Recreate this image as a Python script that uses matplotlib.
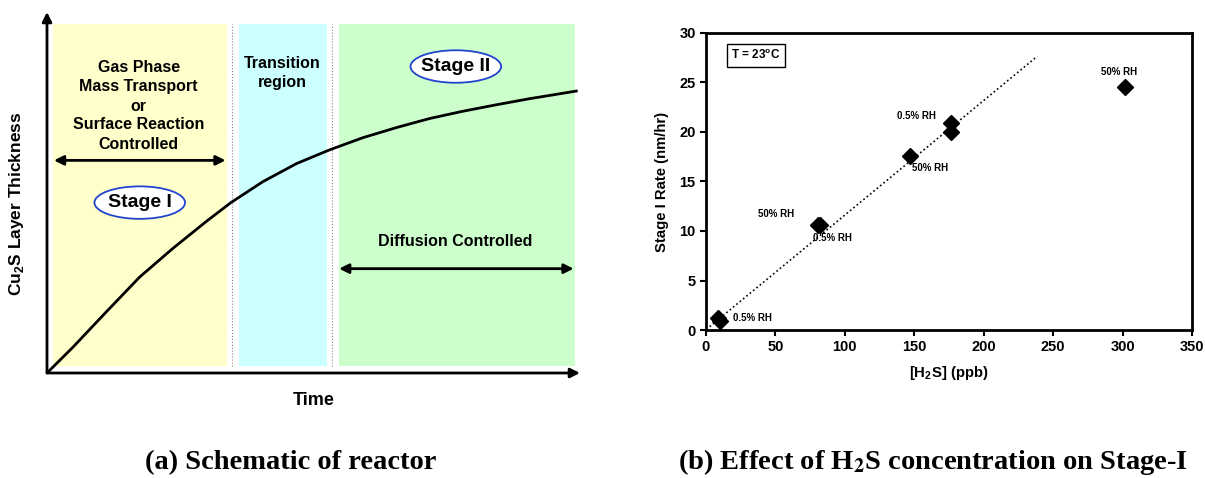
import matplotlib.pyplot as plt
from matplotlib.patches import Ellipse, Rectangle

plt.rcParams['font.family'] = ['Liberation Sans', 'DejaVu Sans']
plt.rcParams['font.weight'] = 'bold'
plt.rcParams['mathtext.fontset'] = 'custom'
plt.rcParams['mathtext.rm'] = 'Liberation Sans:bold'
plt.rcParams['mathtext.bf'] = 'Liberation Sans:bold'

# (a) schematic growth curve, arbitrary units
time = [0.0, 0.049, 0.111, 0.174, 0.236, 0.299, 0.345, 0.405, 0.468, 0.530,
        0.593, 0.656, 0.718, 0.780, 0.843, 0.906, 0.993]
thickness = [0.0, 0.072, 0.169, 0.266, 0.345, 0.420, 0.472, 0.530, 0.580, 0.618,
             0.652, 0.680, 0.705, 0.725, 0.743, 0.760, 0.781]
stage_bounds = [0.012, 0.337, 0.360, 0.526, 0.547, 0.991]
divider_t = [0.347, 0.534]

# (b) Stage I rate vs H2S concentration
h2s_ppb = [9.0, 10.0, 80.5, 82.3, 146.6, 176.2, 176.2, 301.8]
rate_nm_hr = [1.24, 0.94, 10.56, 10.56, 17.6, 20.9, 20.0, 24.5]
fit_x = [2.6, 238.6]
fit_y = [0.34, 27.65]
rh_labels = ['50% RH', '0.5% RH', '50% RH', '50% RH', '0.5% RH', '0.5% RH']
rh_x = [297.8, 151.2, 161.5, 50.4, 90.8, 33.7]
rh_y = [26.1, 21.6, 16.4, 11.7, 9.3, 1.24]
x_ticks = [0, 50, 100, 150, 200, 250, 300, 350]
y_ticks = [0, 5, 10, 15, 20, 25, 30]

W, H = 1205, 478
fig = plt.figure(figsize=(W / 100, H / 100), dpi=100)

# ---- left: schematic ----
ax1 = fig.add_axes([47 / W, 105 / H, 533 / W, 361 / H])
ax1.set_xlim(0, 1)
ax1.set_ylim(0, 1)
ax1.axis('off')

y0, y1 = 0.019, 0.968
colors = ['#ffffcc', '#ccffff', '#ccffcc']
for i, c in enumerate(colors):
    a, b = stage_bounds[2 * i], stage_bounds[2 * i + 1]
    ax1.add_patch(Rectangle((a, y0), b - a, y1 - y0, facecolor=c, edgecolor='none', zorder=0))
for d in divider_t:
    ax1.plot([d, d], [y0, y1], color='#888888', lw=0.8, ls=':', zorder=1)

ax1.plot(time, thickness, color='k', lw=2, zorder=3, solid_joinstyle='round')

arrow_kw = dict(lw=2, color='k', mutation_scale=14, shrinkA=0, shrinkB=0)
ax1.annotate('', xy=(0, 1.0), xytext=(0, 0), annotation_clip=False,
             arrowprops=dict(arrowstyle='-|>', **arrow_kw))
ax1.annotate('', xy=(1.0, 0), xytext=(0, 0), annotation_clip=False,
             arrowprops=dict(arrowstyle='-|>', **arrow_kw))

# stage arrows
ax1.annotate('', xy=(0.335, 0.589), xytext=(0.013, 0.589),
             arrowprops=dict(arrowstyle='<|-|>', **arrow_kw))
ax1.annotate('', xy=(0.988, 0.289), xytext=(0.548, 0.289),
             arrowprops=dict(arrowstyle='<|-|>', **arrow_kw))

for txt, h in zip(['Gas Phase', 'Mass Transport', 'or', 'Surface Reaction', 'Controlled'],
                  [0.847, 0.794, 0.739, 0.687, 0.634]):
    ax1.text(0.172, h, txt, ha='center', va='center', fontsize=11.5, fontweight='bold')
for txt, h in zip(['Transition', 'region'], [0.856, 0.804]):
    ax1.text(0.442, h, txt, ha='center', va='center', fontsize=11.5, fontweight='bold')
ax1.text(0.765, 0.364, 'Diffusion Controlled', ha='center', va='center', fontsize=11.5, fontweight='bold')

for (cx, cy, lab) in [(0.174, 0.472, 'Stage I'), (0.767, 0.849, 'Stage II')]:
    ax1.add_patch(Ellipse((cx, cy), 0.17, 0.09, facecolor='white', edgecolor='#2244cc', lw=1.3, zorder=4))
    ax1.text(cx, cy, lab, ha='center', va='center', fontsize=14, fontweight='bold', zorder=5)

ax1.text(0.5, -0.075, 'Time', ha='center', va='center', fontsize=13, fontweight='bold')
ax1.text(-0.057, 0.468, r'Cu$_\mathbf{2}$S Layer Thickness', rotation=90, ha='center', va='center',
         fontsize=12.5, fontweight='bold')

# ---- right: rate vs concentration ----
ax2 = fig.add_axes([706 / W, 148 / H, 486 / W, 297 / H])
ax2.plot(fit_x, fit_y, color='k', lw=1.2, ls=(0, (1, 1.6)))
ax2.plot(h2s_ppb, rate_nm_hr, ls='none', marker='D', ms=8.5, color='k')
for lab, x, y in zip(rh_labels, rh_x, rh_y):
    ax2.text(x, y, lab, ha='center', va='center', fontsize=7, fontweight='bold')
ax2.text(36.0, 27.75, r'T = 23$^\mathbf{o}$C', ha='center', va='center', fontsize=8.5, fontweight='bold',
         bbox=dict(boxstyle='square,pad=0.4', facecolor='white', edgecolor='k', lw=1))

ax2.set_xlim(0, 350)
ax2.set_ylim(0, 30)
ax2.set_xticks(x_ticks)
ax2.set_yticks(y_ticks)
ax2.tick_params(direction='out', length=4, width=1.5, labelsize=10.5)
for lab in ax2.get_xticklabels() + ax2.get_yticklabels():
    lab.set_fontweight('bold')
for s in ax2.spines.values():
    s.set_linewidth(2)
ax2.set_xlabel(r'[H$_\mathbf{2}$S] (ppb)', fontsize=10.7, fontweight='bold', labelpad=7)
ax2.set_ylabel('Stage I Rate (nm/hr)', fontsize=10.7, fontweight='bold', labelpad=7)

# ---- captions ----
fig.text(291 / W, 9 / H, '(a) Schematic of reactor', ha='center', va='baseline',
         family='Liberation Serif', fontsize=20.5, fontweight='bold')
fig.text(933 / W, 9 / H, r'(b) Effect of H$_\mathbf{2}$S concentration on Stage-I', ha='center', va='baseline',
         family='Liberation Serif', fontsize=20.5, fontweight='bold', math_fontfamily='stix')

fig.savefig('out.png', dpi=100)
